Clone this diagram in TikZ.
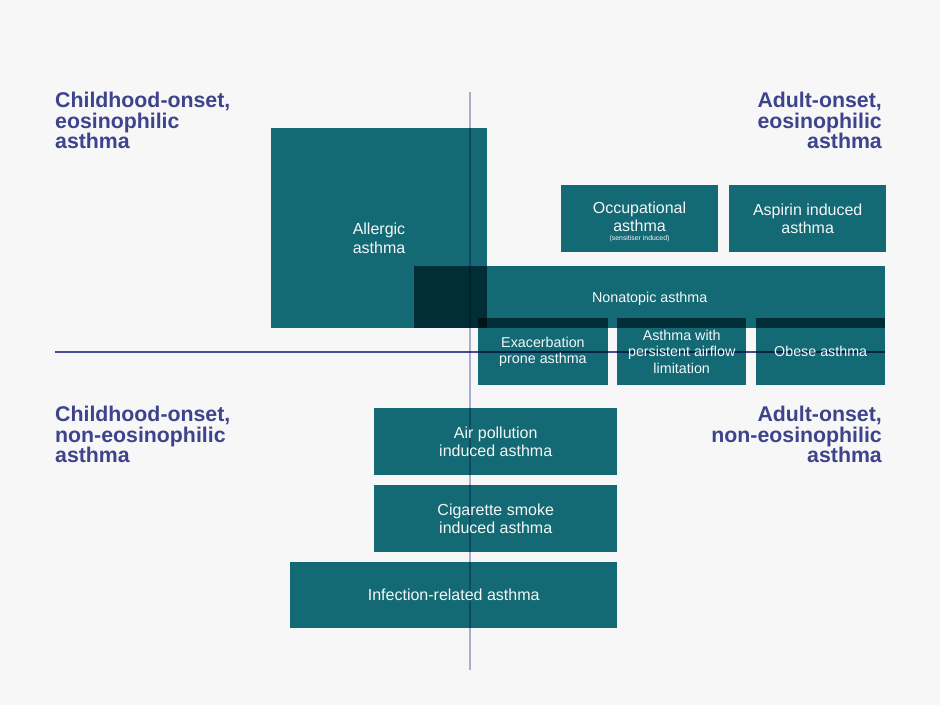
\documentclass[tikz,border=0pt]{standalone}
\usepackage{fontspec}
\setmainfont{Liberation Sans}
\setsansfont{Liberation Sans}
\definecolor{bg}{HTML}{F7F7F7}
\definecolor{teal}{HTML}{156E78}
\definecolor{navy}{HTML}{3D448C}
\definecolor{vline}{HTML}{AFB3D9}
\definecolor{hline}{HTML}{4A50A0}
\definecolor{boxtext}{HTML}{F4F7F8}
\tikzset{
  box/.style={fill=teal, draw=none, inner sep=0pt, anchor=north west},
  boxlabel/.style={text=boxtext, font=\fontsize{16}{18.6}\selectfont, align=center, inner sep=0pt},
  smalllabel/.style={text=boxtext, font=\fontsize{14.3}{16.5}\selectfont, align=center, inner sep=0pt},
  header/.style={text=navy, font=\fontsize{21.3}{20.5}\selectfont\bfseries, inner sep=0pt},
}
\newcommand{\mkbox}[5]{% name, x1, y1, x2, y2
  \node[box, minimum width={(#4-#2)*1pt}, minimum height={(#5-#3)*1pt}] (#1) at (#2,#3) {};}
\begin{document}
\begin{tikzpicture}[x=1pt,y=-1pt]
\fill[bg] (0,0) rectangle (940,705);
\useasboundingbox (0,0) rectangle (940,705);
\begin{scope}[blend mode=multiply]
  \mkbox{allergic}{271}{128}{487}{328}
  \mkbox{nonatopic}{414}{266}{885}{328}
  \mkbox{exacerb}{478}{318}{607.5}{385}
  \mkbox{persist}{617}{318}{746}{385}
  \mkbox{obese}{756}{318}{885}{385}
  \mkbox{occup}{561}{185}{718}{252}
  \mkbox{aspirin}{729}{185}{886}{252}
  \mkbox{airpol}{374}{408}{617}{475}
  \mkbox{cigar}{374}{485}{617}{552}
  \mkbox{infect}{290}{562}{617}{628}
  \coordinate (vtop) at (469.5,92);
  \coordinate (vbot) at (469.5,670);
  \coordinate (hleft) at (55,352);
  \coordinate (hright) at (885,352);
  \draw[vline, line width=2pt] (vtop) -- (vbot);
  \draw[hline, line width=1.1pt] (hleft) -- (hright);
\end{scope}
% box labels
\node[boxlabel] (tallergic) at (379,238) {Allergic\\asthma};
\node[smalllabel] (tnonatopic) at ([yshift=-2pt]nonatopic.center) {Nonatopic asthma};
\node[smalllabel] (texacerb) at (exacerb.center) {Exacerbation\\prone asthma};
\node[smalllabel] (tpersist) at (persist.center) {Asthma with\\persistent airflow\\limitation};
\node[smalllabel] (tobese) at (obese.center) {Obese asthma};
\node[boxlabel] (toccup) at (639.5,216.6) {Occupational\\asthma};
\node[text=boxtext, font=\fontsize{6.9}{8}\selectfont, inner sep=0pt, anchor=base] (tsens) at (639.5,240.5) {(sensitiser induced)};
\node[boxlabel] (taspirin) at (aspirin.center) {Aspirin induced\\asthma};
\node[boxlabel] (tairpol) at (airpol.center) {Air pollution\\induced asthma};
\node[boxlabel] (tcigar) at (cigar.center) {Cigarette smoke\\induced asthma};
\node[boxlabel] (tinfect) at (infect.center) {Infection-related asthma};
% headers
\node[header, anchor=north west, align=left] (hdr1) at (55,92) {Childhood-onset,\\eosinophilic\\asthma};
\node[header, anchor=north east, align=right] (hdr2) at (882,92) {Adult-onset,\\eosinophilic\\asthma};
\node[header, anchor=north west, align=left] (hdr3) at (55,406) {Childhood-onset,\\non-eosinophilic\\asthma};
\node[header, anchor=north east, align=right] (hdr4) at (882,406) {Adult-onset,\\non-eosinophilic\\asthma};
\end{tikzpicture}
\end{document}
